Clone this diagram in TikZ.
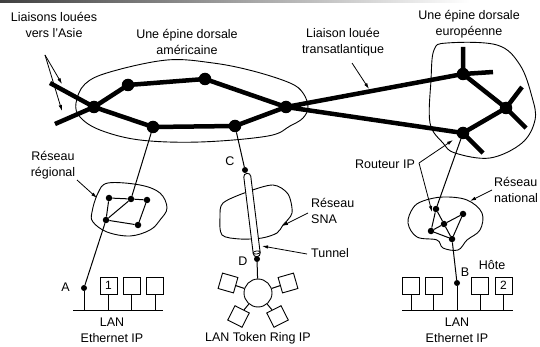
\documentclass[tikz,border=0pt]{standalone}
\usepackage{fontspec}
\setmainfont{Liberation Sans}
\usetikzlibrary{arrows.meta,shapes.geometric}
\tikzset{
  lbl/.style={inner sep=0pt, align=center, font=\fontsize{12.5}{16}\selectfont},
  lbll/.style={inner sep=0pt, align=left, font=\fontsize{12.5}{16}\selectfont},
  bigdot/.style={circle, fill=black, inner sep=0pt, minimum size=12.5pt},
  smalldot/.style={circle, fill=black, inner sep=0pt, minimum size=6.5pt},
  enddot/.style={circle, fill=black, inner sep=0pt, minimum size=6pt},
  thick line/.style={line width=4.5pt},
  thin line/.style={line width=1pt},
  blob/.style={line width=0.9pt},
  ptr/.style={line width=0.8pt, -{Latex[length=6pt,width=3.5pt]}},
  hostbox/.style={draw, line width=0.9pt, minimum size=17pt, inner sep=0pt, font=\fontsize{12}{14}\selectfont},
  ringsq/.style={draw, line width=0.9pt, minimum size=16pt, inner sep=0pt, fill=white},
}
\begin{document}
\begin{tikzpicture}[x=1pt,y=-1pt]
\useasboundingbox (0,0) rectangle (540,347);
\fill[white] (0,0) rectangle (540,347);
\shade[left color=black!75, right color=white] (0,0) rectangle (470,3);

% ---- blobs ----
\draw[blob] plot[smooth cycle, tension=0.6] coordinates {(76,103) (85,84) (110,72) (167,60) (213,63) (253,71) (290,83) (303,93) (308,107) (303,118) (290,126) (268,136) (200,142) (140,140) (100,130) (80,117)};
\draw[blob] plot[smooth cycle, tension=0.6] coordinates {(431,80) (434,50) (447,43) (497,45) (520,65) (532,97) (535,120) (522,143) (490,158) (455,153) (443,143) (430,123)};
\draw[blob] plot[smooth cycle, tension=0.6] coordinates {(92,212) (98,193) (108,183) (140,185) (160,193) (167,208) (160,220) (150,230) (130,236) (107,232) (93,222)};
\draw[blob] plot[smooth cycle, tension=0.5] coordinates {(220,217) (223,203) (247,192) (273,185) (288,194) (292,213) (283,225) (277,233) (262,238) (240,239) (222,235)};
\draw[blob] plot[smooth cycle, tension=0.6] coordinates {(413,208) (423,201) (443,197) (467,200) (482,213) (480,230) (467,240) (458,250) (443,248) (437,240) (417,237) (408,223)};

% ---- backbone nodes ----
\node[bigdot] (a1) at (94,107) {};
\node[bigdot] (a2) at (128,85) {};
\node[bigdot] (a3) at (205,79) {};
\node[bigdot] (a4) at (153,127) {};
\node[bigdot] (a5) at (235,126) {};
\node[bigdot] (r) at (286,107) {};
\node[bigdot] (e1) at (463,74) {};
\node[bigdot] (e2) at (506,108) {};
\node[bigdot] (e3) at (463,133) {};
\coordinate (asia1) at (50,83);
\coordinate (asia2) at (55,124);
\coordinate (e1u) at (463,47);
\coordinate (e1r) at (493,72);
\coordinate (e2u) at (522,87);
\coordinate (e2d) at (526,128);
\coordinate (e3d) at (483,153);

\draw[thick line] (asia1) -- (a1.center) -- (a4.center) -- (a5.center) -- (r.center) -- (a3.center) -- (a2.center) -- (a1.center) -- (asia2);
\draw[thick line] (r.center) -- (e1.center) -- (e2.center) -- (e3.center) -- (r.center);
\draw[thick line] (e1.center) -- (e1u) (e1.center) -- (e1r) (e2.center) -- (e2u) (e2.center) -- (e2d) (e3.center) -- (e3d);

% ---- regional network ----
\node[smalldot] (g1) at (109,198) {};
\node[smalldot] (g2) at (131,199) {};
\node[smalldot] (g3) at (147,200) {};
\node[smalldot] (g4) at (106,220) {};
\node[smalldot] (g5) at (138,225) {};
\draw[thin line] (g1) -- (g2) -- (g3) -- (g5) -- (g4) -- (g1) (g4) -- (g2);
\node[enddot] (dA) at (84,288) {};
\draw[thin line] (a4) -- (g2);
\draw[thin line] (g4) -- (dA);

% ---- national network ----
\node[smalldot] (n1) at (436,209) {};
\node[smalldot] (n2) at (444,224) {};
\node[smalldot] (n3) at (463,214) {};
\node[smalldot] (n4) at (431,231) {};
\node[smalldot] (n5) at (452,239) {};
\draw[thin line] (n1) -- (n4) -- (n5) -- (n3) -- (n2) -- (n4) (n1) -- (n2) -- (n5);
\draw[thin line] (e3) -- (n1);
\node[enddot] (dB) at (457,283) {};
\draw[thin line] (n5) -- (dB);

% ---- left LAN ----
\coordinate (busL1) at (73,310);
\coordinate (busL2) at (163,310);
\draw[thin line] (busL1) -- (busL2);
\node[hostbox] (h1) at (108.5,285.5) {1};
\node[hostbox] (h2) at (131.5,285.5) {};
\node[hostbox] (h3) at (155,285.5) {};
\draw[thin line] (dA) -- (dA |- busL1);
\foreach \h in {h1,h2,h3} \draw[thin line] (\h.south) -- (\h |- busL1);
\node[lbl] at (73,287) [left=3pt] {A};

% ---- right LAN ----
\coordinate (busR1) at (402,310);
\coordinate (busR2) at (513,310);
\draw[thin line] (busR1) -- (busR2);
\node[hostbox] (k1) at (411,285.5) {};
\node[hostbox] (k2) at (433.5,285.5) {};
\node[hostbox] (k3) at (480,285.5) {};
\node[hostbox] (k4) at (503.5,285.5) {2};
\draw[thin line] (dB) -- (dB |- busR1);
\foreach \h in {k1,k2,k3,k4} \draw[thin line] (\h.south) -- (\h |- busR1);
\node[lbl] at (465,272) {B};
\node[lbl] at (492,265) {Hôte};

% ---- tunnel / SNA / token ring ----
\node[enddot] (dC) at (245,170) {};
\draw[thin line] (a5) -- (dC);
\node[lbl] at (230,161) {C};
\node[draw, line width=0.9pt, fill=white, minimum width=7pt, minimum height=84pt, inner sep=0pt, rounded corners=3.4pt, rotate=7] (tube) at (252,215) {};
\node[draw, ellipse, line width=0.8pt, fill=white, minimum width=7pt, minimum height=3pt, inner sep=0pt, rotate=7] (tubeend) at (256.6,252.5) {};
\node[enddot] (dD) at (257,259) {};
\node[lbl] at (243,261) {D};
\node[circle, draw, line width=0.9pt, minimum size=28pt, inner sep=0pt] (ring) at (258,293) {};
\draw[thin line] (dD) -- (ring);
\node[ringsq, rotate=-16] (s1) at (228,283) {};
\node[ringsq, rotate=16] (s2) at (288,283) {};
\node[ringsq, rotate=-27] (s3) at (238.5,316.5) {};
\node[ringsq, rotate=27] (s4) at (277.5,316.5) {};
\foreach \s in {s1,s2,s3,s4} \draw[thin line] (ring) -- (\s);

% ---- labels ----
\node[lbl] (lasia) at (54,25) {Liaisons louées\\vers l'Asie};
\coordinate (lasiaP) at (45,55);
\draw[ptr] (lasiaP) -- (62,84);
\draw[ptr] (lasiaP) -- (62,111);
\node[lbl] at (187,42) {Une épine dorsale\\américaine};
\node[lbl] at (343,42) {Liaison louée\\transatlantique};
\coordinate (ltaP) at (352,63);
\coordinate (ltaT) at (369,89);
\draw[ptr] (ltaP) -- (ltaT);
\node[lbl] at (469,24) {Une épine dorsale\\européenne};
\node[lbl] at (53,165) {Réseau\\régional};
\draw[ptr] (77,180) -- (97,198);
\node[lbll, anchor=west] at (311,210.5) {Réseau\\SNA};
\draw[ptr] (308,213) -- (282,226);
\node[lbll, anchor=west] at (311,253) {Tunnel};
\draw[ptr] (307,254) -- (262,246);
\node[lbl] at (258,338) {LAN Token Ring IP};
\node[lbl] at (112,330) {LAN\\Ethernet IP};
\node[lbl] at (457,330) {LAN\\Ethernet IP};
\node[lbl] at (385,164) {Routeur IP};
\coordinate (rtV) at (419,163);
\draw[ptr] (rtV) -- (453,140);
\draw[ptr] (rtV) -- (432,212);
\node[lbll, anchor=west] at (494,190) {Réseau\\national};
\draw[ptr] (492,190) -- (470,201);
\end{tikzpicture}
\end{document}
